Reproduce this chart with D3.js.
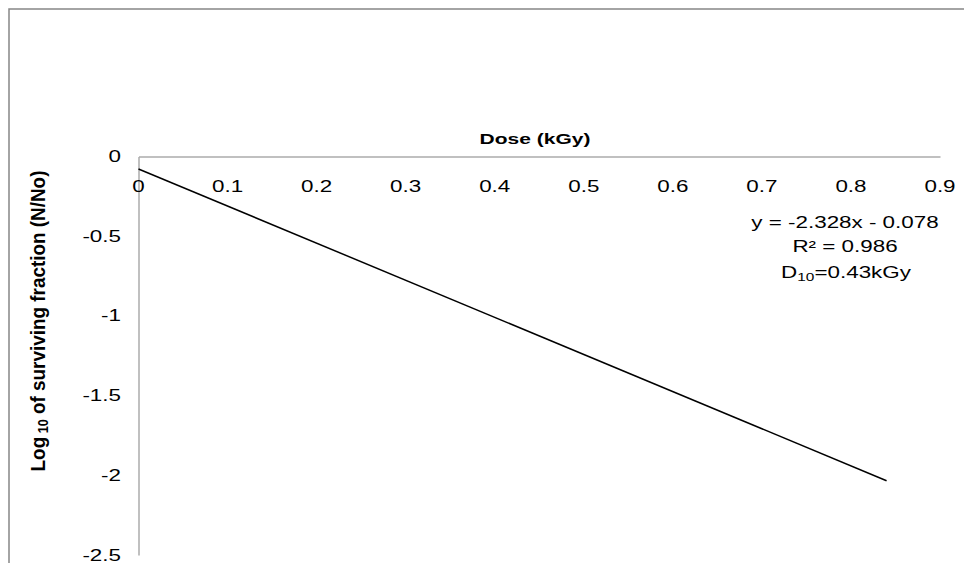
<!DOCTYPE html>
<html>
<head>
<meta charset="utf-8">
<script src="https://cdn.jsdelivr.net/npm/d3@7"></script>
<style>
  html, body { margin: 0; padding: 0; background: #fff; }
  svg { display: block; }
  text { font-family: "Liberation Sans", Arial, sans-serif; fill: #000; }
</style>
</head>
<body>
<svg id="chart" width="964" height="563"></svg>
<script>
// ---- data ----
const doseValues = [0, 0.84];            // kGy, trend line ends
const logSurvival = [-0.078, -2.034];    // log10 surviving fraction at those doses
const xTicks = [0, 0.1, 0.2, 0.3, 0.4, 0.5, 0.6, 0.7, 0.8, 0.9];
const yTicks = [0, -0.5, -1, -1.5, -2, -2.5];
const xTickLabels = ["0", "0.1", "0.2", "0.3", "0.4", "0.5", "0.6", "0.7", "0.8", "0.9"];
const yTickLabels = ["0", "-0.5", "-1", "-1.5", "-2", "-2.5"];
const annotationLines = ["y = -2.328x - 0.078", "R\u00B2 = 0.986"];

const svg = d3.select("#chart");
const SX = 1.4; // horizontal text stretch seen in the reference

// outer chart border
svg.append("rect")
  .attr("x", 9).attr("y", 9).attr("width", 1000).attr("height", 600)
  .attr("fill", "none").attr("stroke", "#868686").attr("stroke-width", 1.5);

const x = d3.scaleLinear().domain([0, 0.9]).range([138.5, 940]);
const y = d3.scaleLinear().domain([-2.5, 0]).range([555, 156.5]);

function stretchedText(g, px, py, str, opts = {}) {
  const t = g.append("text")
    .attr("transform", `translate(${px},${py}) scale(${SX},1)`)
    .attr("text-anchor", opts.anchor || "middle")
    .style("font-size", (opts.size || 16) + "px")
    .style("font-weight", opts.weight || "normal");
  return t.text(str);
}

// axes lines (no ticks)
const axisColor = "#ababab";
const xAxis = d3.axisBottom(x).tickValues(xTicks).tickSize(0).tickFormat("");
const yAxis = d3.axisLeft(y).tickValues(yTicks).tickSize(0).tickFormat("");

const gx = svg.append("g").attr("transform", `translate(0,${y(0)})`).call(xAxis);
gx.select(".domain").attr("stroke", axisColor).attr("stroke-width", 1.5);
const gy = svg.append("g").attr("transform", `translate(${x(0)},0)`).call(yAxis);
gy.select(".domain").attr("stroke", axisColor).attr("stroke-width", 1.5);

// tick labels
const labels = svg.append("g");
xTicks.forEach((v, i) => {
  stretchedText(labels, x(v), 192, xTickLabels[i]);
});
yTicks.forEach((v, i) => {
  stretchedText(labels, 121, y(v) + 5.5, yTickLabels[i], { anchor: "end" });
});

// axis titles
stretchedText(svg, 535, 144, "Dose (kGy)", { size: 15, weight: "bold" });

const yTitle = svg.append("text")
  .attr("transform", `translate(45,321) rotate(-90) scale(1.26,${SX})`)
  .attr("text-anchor", "middle")
  .style("font-size", "15px")
  .style("font-weight", "bold");
yTitle.append("tspan").text("Log");
yTitle.append("tspan").attr("dy", 2).style("font-size", "10px").text(" 10");
yTitle.append("tspan").attr("dy", -2).text(" of surviving fraction (N/No)");

// trend line
const pts = doseValues.map((d, i) => [d, logSurvival[i]]);
svg.append("path")
  .datum(pts)
  .attr("d", d3.line().x(d => x(d[0])).y(d => y(d[1])))
  .attr("fill", "none").attr("stroke", "#000").attr("stroke-width", 1.5);

// annotation
const ann = svg.append("g");
stretchedText(ann, 845, 228, annotationLines[0]);
stretchedText(ann, 845, 252, annotationLines[1]);
const d10 = ann.append("text")
  .attr("transform", `translate(846,278) scale(${SX},1)`)
  .attr("text-anchor", "middle")
  .style("font-size", "16px");
d10.append("tspan").text("D");
d10.append("tspan").attr("dy", 3).style("font-size", "11px").text("10");
d10.append("tspan").attr("dy", -3).text("=0.43kGy");
</script>
</body>
</html>
